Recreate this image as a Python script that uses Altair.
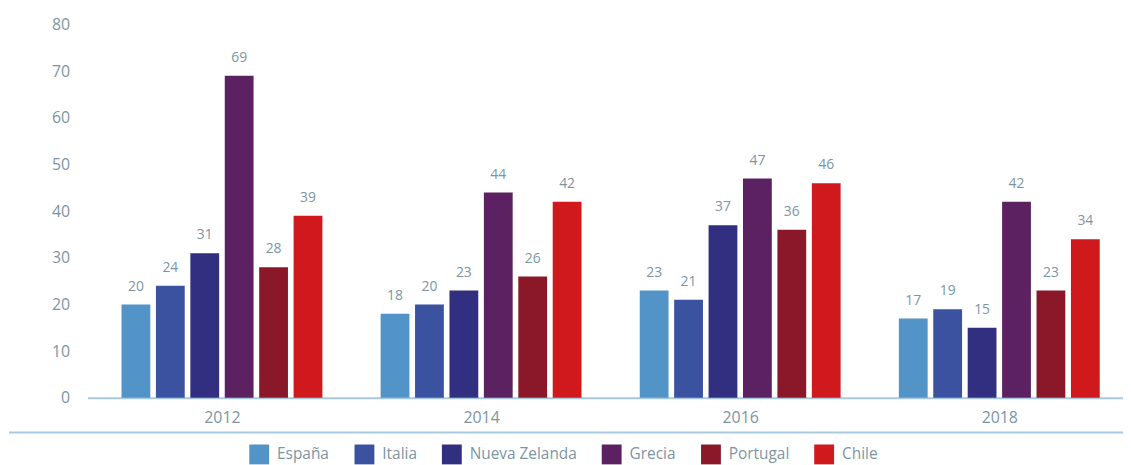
import altair as alt
import pandas as pd

years = [2012, 2014, 2016, 2018]
countries = ["España", "Italia", "Nueva Zelanda", "Grecia", "Portugal", "Chile"]
colors = ["#5294c8", "#3a52a0", "#322e80", "#5c2160", "#8a1828", "#d0191c"]
v2012 = [20, 24, 31, 69, 28, 39]
v2014 = [18, 20, 23, 44, 26, 42]
v2016 = [23, 21, 37, 47, 36, 46]
v2018 = [17, 19, 15, 42, 23, 34]

rows = []
for yr, vals in zip(years, [v2012, v2014, v2016, v2018]):
    for i, (c, v) in enumerate(zip(countries, vals)):
        rows.append({"Año": yr, "País": c, "Orden": i, "Valor": v})
df = pd.DataFrame(rows)

text_color = "#7d95a3"
line_color = "#a9c8e2"
FONT = "Open Sans"
W = 1043
H = 376
# layout: pixels per year and per-bar step inside a group
PX_PER_YEAR = 131.75
BAR_STEP = 35 / PX_PER_YEAR
BAR_W = 29
x_domain = [2011, 2011 + W / PX_PER_YEAR]

x = alt.X("pos:Q",
          scale=alt.Scale(domain=x_domain, nice=False, zero=False),
          axis=alt.Axis(title=None, values=years, format="d", labelAngle=0, ticks=False,
                        grid=False, domainColor=line_color, domainWidth=2,
                        labelColor=text_color, labelFontSize=16, labelPadding=12,
                        labelFont=FONT, labelFlush=False))
y = alt.Y("Valor:Q", scale=alt.Scale(domain=[0, 80]),
          axis=alt.Axis(title=None, values=list(range(0, 81, 10)), grid=False,
                        domain=False, ticks=False, labelPadding=18,
                        labelColor=text_color, labelFontSize=16, labelFont=FONT))

base = alt.Chart(df).transform_calculate(
    pos=f"datum['Año'] + (datum['Orden'] - 2.5) * {BAR_STEP}"
)
bars = base.mark_bar(width=BAR_W).encode(
    x=x, y=y,
    color=alt.Color("País:N", sort=countries,
                    scale=alt.Scale(domain=countries, range=colors),
                    legend=alt.Legend(title=None, orient="none", legendX=163, legendY=423,
                                      direction="horizontal", symbolType="square",
                                      symbolSize=400, symbolStrokeWidth=0, symbolOpacity=1,
                                      labelFontSize=15.5, labelColor=text_color, labelFont=FONT,
                                      columnPadding=25, labelOffset=8)),
)
labels = base.mark_text(dy=-11, baseline="bottom", fontSize=14, color=text_color, font=FONT).encode(
    x=x, y=y, text=alt.Text("Valor:Q")
)
one = pd.DataFrame({"a": [0]})
sep = alt.Chart(one).mark_rule(color=line_color, strokeWidth=2).encode(
    x=alt.value(-79), x2=alt.value(W), y=alt.value(411)
)

chart = alt.layer(bars, labels, sep).properties(
    width=W, height=H,
    autosize=alt.AutoSizeParams(type="none"),
    padding={"left": 80, "top": 15, "right": 0, "bottom": 66},
    background="white",
).configure_view(stroke=None)

chart.save("out.html", embed_options={"renderer": "svg", "actions": False})
